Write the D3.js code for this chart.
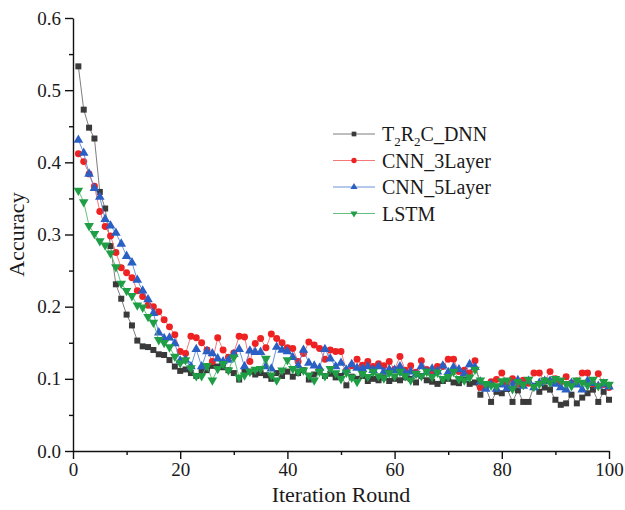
<!DOCTYPE html>
<html>
<head>
<meta charset="utf-8">
<script src="https://cdn.jsdelivr.net/npm/d3@7"></script>
<style>
  body { margin: 0; background: #fff; }
  svg text { font-family: "Liberation Serif", "Times New Roman", serif; fill: #1a1a1a; }
</style>
</head>
<body>
<svg id="chart" width="625" height="510"></svg>
<script>
// iteration rounds 1..100
const rounds = d3.range(1, 101);

const t2r2c = [
  0.533, 0.473, 0.448, 0.433, 0.359, 0.336, 0.284, 0.231, 0.211, 0.189,
  0.174, 0.153, 0.145, 0.144, 0.140, 0.134, 0.133, 0.126, 0.117, 0.111,
  0.113, 0.108, 0.104, 0.110, 0.112, 0.118, 0.117, 0.116, 0.112, 0.108,
  0.099, 0.112, 0.110, 0.106, 0.108, 0.105, 0.100, 0.108, 0.104, 0.110,
  0.103, 0.108, 0.112, 0.099, 0.106, 0.110, 0.104, 0.107, 0.102, 0.104,
  0.091, 0.103, 0.100, 0.104, 0.097, 0.100, 0.098, 0.102, 0.097, 0.100,
  0.098, 0.102, 0.100, 0.095, 0.104, 0.098, 0.096, 0.093, 0.097, 0.100,
  0.095, 0.094, 0.099, 0.093, 0.095, 0.078, 0.088, 0.068, 0.082, 0.080,
  0.086, 0.068, 0.084, 0.068, 0.068, 0.090, 0.082, 0.088, 0.085, 0.071,
  0.064, 0.066, 0.078, 0.066, 0.074, 0.080, 0.085, 0.068, 0.082, 0.071
];
const cnn3 = [
  0.412, 0.401, 0.384, 0.367, 0.332, 0.311, 0.298, 0.275, 0.254, 0.247,
  0.240, 0.222, 0.214, 0.202, 0.200, 0.193, 0.182, 0.172, 0.161, 0.138,
  0.135, 0.159, 0.157, 0.150, 0.140, 0.124, 0.157, 0.140, 0.130, 0.136,
  0.159, 0.158, 0.124, 0.149, 0.156, 0.143, 0.162, 0.156, 0.150, 0.143,
  0.142, 0.124, 0.135, 0.151, 0.147, 0.142, 0.127, 0.140, 0.138, 0.138,
  0.112, 0.118, 0.127, 0.119, 0.124, 0.117, 0.121, 0.118, 0.124, 0.113,
  0.131, 0.112, 0.118, 0.109, 0.125, 0.113, 0.111, 0.117, 0.117, 0.127,
  0.127, 0.110, 0.112, 0.108, 0.125, 0.088, 0.092, 0.096, 0.099, 0.108,
  0.095, 0.100, 0.093, 0.098, 0.094, 0.108, 0.108, 0.097, 0.110, 0.100,
  0.096, 0.103, 0.094, 0.097, 0.108, 0.108, 0.093, 0.107, 0.092, 0.088
];
const cnn5 = [
  0.431, 0.413, 0.384, 0.364, 0.352, 0.321, 0.312, 0.302, 0.287, 0.270,
  0.261, 0.237, 0.222, 0.210, 0.191, 0.164, 0.156, 0.157, 0.149, 0.125,
  0.126, 0.117, 0.141, 0.117, 0.138, 0.135, 0.128, 0.124, 0.126, 0.134,
  0.141, 0.117, 0.139, 0.137, 0.137, 0.117, 0.114, 0.144, 0.140, 0.138,
  0.130, 0.118, 0.140, 0.122, 0.118, 0.115, 0.141, 0.128, 0.117, 0.122,
  0.112, 0.120, 0.115, 0.114, 0.117, 0.112, 0.117, 0.110, 0.113, 0.112,
  0.117, 0.108, 0.110, 0.106, 0.117, 0.109, 0.114, 0.110, 0.118, 0.109,
  0.116, 0.113, 0.107, 0.120, 0.116, 0.096, 0.086, 0.092, 0.086, 0.092,
  0.087, 0.092, 0.098, 0.090, 0.097, 0.088, 0.094, 0.097, 0.097, 0.093,
  0.088, 0.085, 0.094, 0.092, 0.085, 0.097, 0.094, 0.090, 0.093, 0.089
];
const lstm = [
  0.361, 0.345, 0.312, 0.301, 0.291, 0.285, 0.274, 0.255, 0.232, 0.222,
  0.215, 0.202, 0.199, 0.186, 0.178, 0.154, 0.150, 0.144, 0.131, 0.122,
  0.126, 0.115, 0.104, 0.104, 0.118, 0.098, 0.114, 0.121, 0.112, 0.130,
  0.102, 0.105, 0.110, 0.113, 0.114, 0.128, 0.105, 0.098, 0.112, 0.126,
  0.114, 0.110, 0.112, 0.105, 0.098, 0.110, 0.104, 0.114, 0.108, 0.100,
  0.109, 0.102, 0.096, 0.107, 0.103, 0.110, 0.104, 0.101, 0.108, 0.104,
  0.110, 0.104, 0.098, 0.107, 0.104, 0.110, 0.103, 0.109, 0.100, 0.103,
  0.110, 0.100, 0.098, 0.102, 0.113, 0.098, 0.093, 0.091, 0.090, 0.097,
  0.098, 0.086, 0.096, 0.092, 0.099, 0.089, 0.093, 0.098, 0.095, 0.100,
  0.098, 0.093, 0.090, 0.098, 0.095, 0.091, 0.099, 0.090, 0.096, 0.092
];

const seriesNames = ['T2R2C_DNN', 'CNN_3Layer', 'CNN_5Layer', 'LSTM'];
const seriesValues = [t2r2c, cnn3, cnn5, lstm];
const markerColors = ['#3a3a3a', '#ee2222', '#2a5fc4', '#1f9e45'];
const lineColors = ['#6e6e6e', '#f26a6a', '#5c86d6', '#55b873'];
const xTicks = [0, 20, 40, 60, 80, 100];
const yTicks = [0.0, 0.1, 0.2, 0.3, 0.4, 0.5, 0.6];

const svg = d3.select('#chart');
const margin = { top: 18, right: 16, bottom: 59, left: 73 };
const width = +svg.attr('width') - margin.left - margin.right;
const height = +svg.attr('height') - margin.top - margin.bottom;

const x = d3.scaleLinear().domain([0, 100]).range([0, width]);
const y = d3.scaleLinear().domain([0, 0.6]).range([height, 0]);

const plot = svg.append('g')
  .attr('transform', `translate(${[margin.left, margin.top]})`);

// minor ticks first, then major axes on top
plot.append('g')
  .attr('transform', `translate(0,${height})`)
  .call(d3.axisBottom(x).tickValues(d3.range(10, 100, 20)).tickSize(4).tickFormat(''))
  .call(g => g.select('.domain').remove());
plot.append('g')
  .call(d3.axisLeft(y).tickValues(d3.range(0.05, 0.6, 0.1)).tickSize(4).tickFormat(''))
  .call(g => g.select('.domain').remove());

const xAxis = plot.append('g')
  .attr('transform', `translate(0,${height})`)
  .call(d3.axisBottom(x).tickValues(xTicks).tickSize(8).tickSizeOuter(0).tickPadding(4));
const yAxis = plot.append('g')
  .call(d3.axisLeft(y).tickValues(yTicks).tickSize(8).tickSizeOuter(0).tickPadding(4)
    .tickFormat(d3.format('.1f')));

plot.selectAll('.domain, .tick line').attr('stroke', '#111').attr('stroke-width', 1.4);
xAxis.selectAll('text').style('font-size', '19px');
yAxis.selectAll('text').style('font-size', '19px');

svg.append('text')
  .attr('x', margin.left + width / 2)
  .attr('y', 502)
  .attr('text-anchor', 'middle')
  .style('font-size', '22px')
  .text('Iteration Round');

svg.append('text')
  .attr('transform', `translate(24,${margin.top + height / 2}) rotate(-90)`)
  .attr('text-anchor', 'middle')
  .style('font-size', '22px')
  .text('Accuracy');

const symbols = [
  d3.symbol().type(d3.symbolSquare).size(36),
  d3.symbol().type(d3.symbolCircle).size(38),
  d3.symbol().type(d3.symbolTriangle).size(40),
  d3.symbol().type(d3.symbolTriangle).size(40),
];
const rotations = [0, 0, 0, 180];

const line = d3.line().x(d => x(d[0])).y(d => y(d[1]));

seriesValues.forEach((vals, i) => {
  const pts = rounds.map((r, k) => [r, vals[k]]);
  const g = plot.append('g').attr('class', `series s${i}`);
  g.append('path')
    .attr('d', line(pts))
    .attr('fill', 'none')
    .attr('stroke', lineColors[i])
    .attr('stroke-width', 0.9);
  g.selectAll('path.mark')
    .data(pts)
    .enter()
    .append('path')
    .attr('class', 'mark')
    .attr('d', symbols[i])
    .attr('transform', d => `translate(${x(d[0])},${y(d[1])}) rotate(${rotations[i]})`)
    .attr('fill', markerColors[i]);
});

// legend
const legend = svg.append('g').attr('transform', 'translate(333,134)');
seriesNames.forEach((name, i) => {
  const row = legend.append('g').attr('transform', `translate(0,${i * 26.5})`);
  row.append('line')
    .attr('x1', 0).attr('x2', 42)
    .attr('stroke', lineColors[i]).attr('stroke-width', 0.9);
  row.append('path')
    .attr('d', d3.symbol().type(i === 0 ? d3.symbolSquare : i === 1 ? d3.symbolCircle : d3.symbolTriangle).size(22))
    .attr('transform', `translate(21,0) rotate(${rotations[i]})`)
    .attr('fill', markerColors[i]);
  const t = row.append('text')
    .attr('x', 49).attr('y', 7)
    .style('font-size', '20px');
  if (i === 0) {
    t.append('tspan').text('T');
    t.append('tspan').attr('dy', 5).style('font-size', '13px').text('2');
    t.append('tspan').attr('dy', -5).text('R');
    t.append('tspan').attr('dy', 5).style('font-size', '13px').text('2');
    t.append('tspan').attr('dy', -5).text('C_DNN');
  } else {
    t.text(name);
  }
});
</script>
</body>
</html>
